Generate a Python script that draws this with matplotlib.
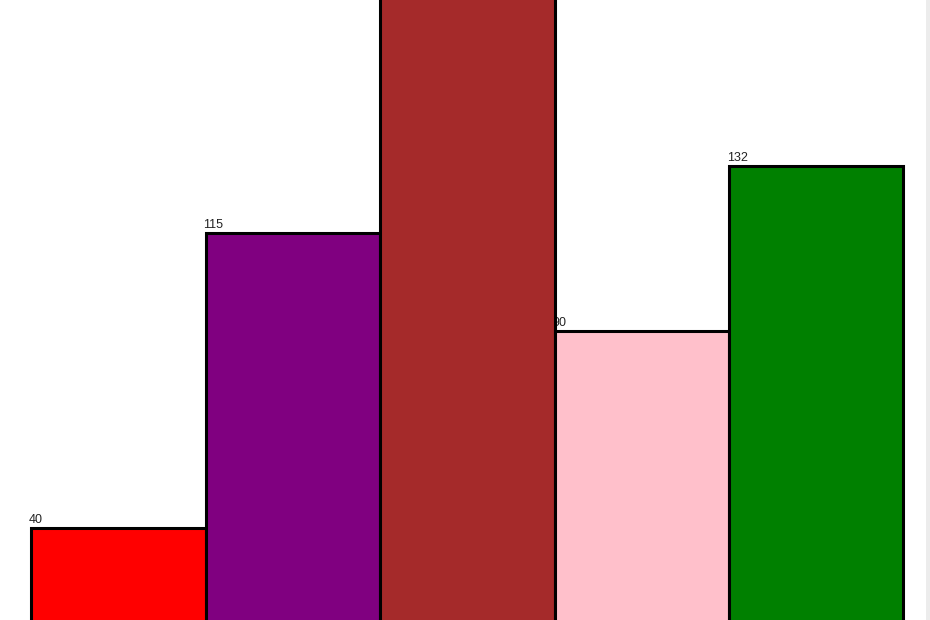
import matplotlib
matplotlib.use('Agg')
import matplotlib.pyplot as plt
from matplotlib.patches import Rectangle

# bar data (third value is cut off at the top of the picture, estimated)
labels = ['A', 'B', 'C', 'D', 'E']
values = [40, 115, 180, 90, 132]
colors = ['red', 'purple', 'brown', 'pink', 'green']
shown = [True, True, False, True, True]

fig = plt.figure(figsize=(9.3, 6.2), dpi=100)
ax = fig.add_axes([0, 0, 1, 1])

pos = list(range(len(values)))
ax.bar(pos, values, width=1, align='edge', color=colors,
       edgecolor='black', linewidth=2.2, zorder=2)

for i, v in enumerate(values):
    if shown[i]:
        ax.annotate(str(v), (i, v), xytext=(-1.5, 1.5), textcoords='offset points',
                    ha='left', va='bottom', fontsize=9, family='Liberation Sans',
                    color='#222222', zorder=1)

# the view is cropped: baseline sits below the bottom edge
ax.set_xlim(-0.178, 5.152)
ax.set_ylim(16.6, 174.2)
ax.axis('off')

# light gray strip at the right edge
fig.patches.append(Rectangle((926 / 930, 0), 4 / 930, 1, transform=fig.transFigure,
                             facecolor='#ececec', edgecolor='none'))

fig.savefig('out.png', dpi=100)
